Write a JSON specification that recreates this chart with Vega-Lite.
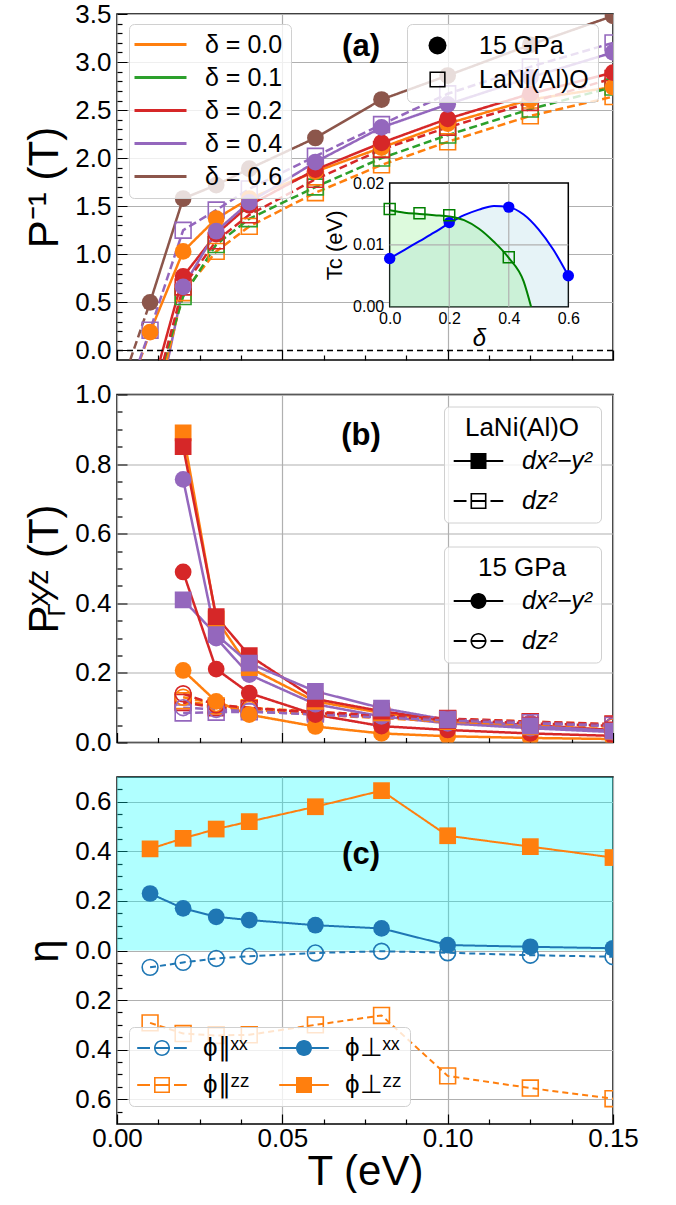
{
"$schema":"https://vega.github.io/schema/vega-lite/v6.json",
"background":"white",
"padding":{"left":23,"top":0,"right":5,"bottom":0},
"autosize":{"type":"pad"},
"bounds":"flush",
"spacing":34.5,
"config":{
 "font":"Liberation Sans",
 "view":{"stroke":"black","strokeWidth":1.5},
 "axis":{"domain":false,"labelFont":"Liberation Sans","labelFontSize":26,"labelColor":"black","labelOverlap":false,"labelFlush":false,"labelPadding":16,"tickColor":"black","tickWidth":1.2,"tickSize":-10,"gridColor":"#b0b0b0","gridWidth":1.2,"titleFont":"Liberation Sans","titleFontSize":42,"titleFontWeight":"normal","titleColor":"black"},
 "legend":{"labelFont":"Liberation Sans","labelColor":"black","titleFont":"Liberation Sans","titleColor":"black","titleFontWeight":"normal","strokeColor":"#d0d0d0","fillColor":"rgba(255,255,255,0.8)","cornerRadius":5},
 "text":{"font":"Liberation Sans","color":"black"}
},
"resolve":{"scale":{"color":"independent","shape":"independent","strokeDash":"independent"}},
"datasets":{
 "pinv":[
  {"T":0.01,"P":0.19,"delta":"0.0","sample":"15 GPa","series":"G0","curve":"15 GPa","kind":"data"},
  {"T":0.02,"P":1.03,"delta":"0.0","sample":"15 GPa","series":"G0","curve":"15 GPa","kind":"data"},
  {"T":0.03,"P":1.37,"delta":"0.0","sample":"15 GPa","series":"G0","curve":"15 GPa","kind":"data"},
  {"T":0.04,"P":1.58,"delta":"0.0","sample":"15 GPa","series":"G0","curve":"15 GPa","kind":"data"},
  {"T":0.06,"P":1.86,"delta":"0.0","sample":"15 GPa","series":"G0","curve":"15 GPa","kind":"data"},
  {"T":0.08,"P":2.11,"delta":"0.0","sample":"15 GPa","series":"G0","curve":"15 GPa","kind":"data"},
  {"T":0.1,"P":2.36,"delta":"0.0","sample":"15 GPa","series":"G0","curve":"15 GPa","kind":"data"},
  {"T":0.125,"P":2.61,"delta":"0.0","sample":"15 GPa","series":"G0","curve":"15 GPa","kind":"data"},
  {"T":0.15,"P":2.74,"delta":"0.0","sample":"15 GPa","series":"G0","curve":"15 GPa","kind":"data"},
  {"T":0.00695,"P":-0.1,"delta":"0.0","sample":"15 GPa","series":"G0f","curve":"fit","kind":"fit"},
  {"T":0.01,"P":0.19,"delta":"0.0","sample":"15 GPa","series":"G0f","curve":"fit","kind":"fit"},
  {"T":0.013,"P":-0.1,"delta":"0.2","sample":"15 GPa","series":"G2","curve":"15 GPa","kind":"fit"},
  {"T":0.02,"P":0.77,"delta":"0.2","sample":"15 GPa","series":"G2","curve":"15 GPa","kind":"data"},
  {"T":0.03,"P":1.21,"delta":"0.2","sample":"15 GPa","series":"G2","curve":"15 GPa","kind":"data"},
  {"T":0.04,"P":1.51,"delta":"0.2","sample":"15 GPa","series":"G2","curve":"15 GPa","kind":"data"},
  {"T":0.06,"P":1.88,"delta":"0.2","sample":"15 GPa","series":"G2","curve":"15 GPa","kind":"data"},
  {"T":0.08,"P":2.16,"delta":"0.2","sample":"15 GPa","series":"G2","curve":"15 GPa","kind":"data"},
  {"T":0.1,"P":2.41,"delta":"0.2","sample":"15 GPa","series":"G2","curve":"15 GPa","kind":"data"},
  {"T":0.125,"P":2.67,"delta":"0.2","sample":"15 GPa","series":"G2","curve":"15 GPa","kind":"data"},
  {"T":0.15,"P":2.89,"delta":"0.2","sample":"15 GPa","series":"G2","curve":"15 GPa","kind":"data"},
  {"T":0.0154,"P":-0.1,"delta":"0.4","sample":"15 GPa","series":"G4","curve":"15 GPa","kind":"fit"},
  {"T":0.02,"P":0.66,"delta":"0.4","sample":"15 GPa","series":"G4","curve":"15 GPa","kind":"data"},
  {"T":0.03,"P":1.24,"delta":"0.4","sample":"15 GPa","series":"G4","curve":"15 GPa","kind":"data"},
  {"T":0.04,"P":1.54,"delta":"0.4","sample":"15 GPa","series":"G4","curve":"15 GPa","kind":"data"},
  {"T":0.06,"P":1.96,"delta":"0.4","sample":"15 GPa","series":"G4","curve":"15 GPa","kind":"data"},
  {"T":0.08,"P":2.32,"delta":"0.4","sample":"15 GPa","series":"G4","curve":"15 GPa","kind":"data"},
  {"T":0.1,"P":2.56,"delta":"0.4","sample":"15 GPa","series":"G4","curve":"15 GPa","kind":"data"},
  {"T":0.125,"P":2.84,"delta":"0.4","sample":"15 GPa","series":"G4","curve":"15 GPa","kind":"data"},
  {"T":0.15,"P":3.1,"delta":"0.4","sample":"15 GPa","series":"G4","curve":"15 GPa","kind":"data"},
  {"T":0.01,"P":0.5,"delta":"0.6","sample":"15 GPa","series":"G6","curve":"15 GPa","kind":"data"},
  {"T":0.02,"P":1.58,"delta":"0.6","sample":"15 GPa","series":"G6","curve":"15 GPa","kind":"data"},
  {"T":0.03,"P":1.72,"delta":"0.6","sample":"15 GPa","series":"G6","curve":"15 GPa","kind":"data"},
  {"T":0.04,"P":1.89,"delta":"0.6","sample":"15 GPa","series":"G6","curve":"15 GPa","kind":"data"},
  {"T":0.06,"P":2.21,"delta":"0.6","sample":"15 GPa","series":"G6","curve":"15 GPa","kind":"data"},
  {"T":0.08,"P":2.61,"delta":"0.6","sample":"15 GPa","series":"G6","curve":"15 GPa","kind":"data"},
  {"T":0.1,"P":2.86,"delta":"0.6","sample":"15 GPa","series":"G6","curve":"15 GPa","kind":"data"},
  {"T":0.125,"P":3.18,"delta":"0.6","sample":"15 GPa","series":"G6","curve":"15 GPa","kind":"data"},
  {"T":0.15,"P":3.48,"delta":"0.6","sample":"15 GPa","series":"G6","curve":"15 GPa","kind":"data"},
  {"T":0.004,"P":-0.1,"delta":"0.6","sample":"15 GPa","series":"G6f","curve":"fit","kind":"fit"},
  {"T":0.01,"P":0.5,"delta":"0.6","sample":"15 GPa","series":"G6f","curve":"fit","kind":"fit"},
  {"T":0.015,"P":-0.1,"delta":"0.0","sample":"LaNi(Al)O","series":"L0","curve":"LaNi(Al)O","kind":"fit"},
  {"T":0.02,"P":0.6,"delta":"0.0","sample":"LaNi(Al)O","series":"L0","curve":"LaNi(Al)O","kind":"data"},
  {"T":0.03,"P":1.03,"delta":"0.0","sample":"LaNi(Al)O","series":"L0","curve":"LaNi(Al)O","kind":"data"},
  {"T":0.04,"P":1.29,"delta":"0.0","sample":"LaNi(Al)O","series":"L0","curve":"LaNi(Al)O","kind":"data"},
  {"T":0.06,"P":1.64,"delta":"0.0","sample":"LaNi(Al)O","series":"L0","curve":"LaNi(Al)O","kind":"data"},
  {"T":0.08,"P":1.93,"delta":"0.0","sample":"LaNi(Al)O","series":"L0","curve":"LaNi(Al)O","kind":"data"},
  {"T":0.1,"P":2.17,"delta":"0.0","sample":"LaNi(Al)O","series":"L0","curve":"LaNi(Al)O","kind":"data"},
  {"T":0.125,"P":2.44,"delta":"0.0","sample":"LaNi(Al)O","series":"L0","curve":"LaNi(Al)O","kind":"data"},
  {"T":0.15,"P":2.64,"delta":"0.0","sample":"LaNi(Al)O","series":"L0","curve":"LaNi(Al)O","kind":"data"},
  {"T":0.0143,"P":-0.1,"delta":"0.1","sample":"LaNi(Al)O","series":"L1","curve":"LaNi(Al)O","kind":"fit"},
  {"T":0.02,"P":0.56,"delta":"0.1","sample":"LaNi(Al)O","series":"L1","curve":"LaNi(Al)O","kind":"data"},
  {"T":0.03,"P":1.1,"delta":"0.1","sample":"LaNi(Al)O","series":"L1","curve":"LaNi(Al)O","kind":"data"},
  {"T":0.04,"P":1.37,"delta":"0.1","sample":"LaNi(Al)O","series":"L1","curve":"LaNi(Al)O","kind":"data"},
  {"T":0.06,"P":1.7,"delta":"0.1","sample":"LaNi(Al)O","series":"L1","curve":"LaNi(Al)O","kind":"data"},
  {"T":0.08,"P":2.0,"delta":"0.1","sample":"LaNi(Al)O","series":"L1","curve":"LaNi(Al)O","kind":"data"},
  {"T":0.1,"P":2.24,"delta":"0.1","sample":"LaNi(Al)O","series":"L1","curve":"LaNi(Al)O","kind":"data"},
  {"T":0.125,"P":2.51,"delta":"0.1","sample":"LaNi(Al)O","series":"L1","curve":"LaNi(Al)O","kind":"data"},
  {"T":0.15,"P":2.74,"delta":"0.1","sample":"LaNi(Al)O","series":"L1","curve":"LaNi(Al)O","kind":"data"},
  {"T":0.0141,"P":-0.1,"delta":"0.2","sample":"LaNi(Al)O","series":"L2","curve":"LaNi(Al)O","kind":"fit"},
  {"T":0.02,"P":0.66,"delta":"0.2","sample":"LaNi(Al)O","series":"L2","curve":"LaNi(Al)O","kind":"data"},
  {"T":0.03,"P":1.14,"delta":"0.2","sample":"LaNi(Al)O","series":"L2","curve":"LaNi(Al)O","kind":"data"},
  {"T":0.04,"P":1.41,"delta":"0.2","sample":"LaNi(Al)O","series":"L2","curve":"LaNi(Al)O","kind":"data"},
  {"T":0.06,"P":1.78,"delta":"0.2","sample":"LaNi(Al)O","series":"L2","curve":"LaNi(Al)O","kind":"data"},
  {"T":0.08,"P":2.09,"delta":"0.2","sample":"LaNi(Al)O","series":"L2","curve":"LaNi(Al)O","kind":"data"},
  {"T":0.1,"P":2.32,"delta":"0.2","sample":"LaNi(Al)O","series":"L2","curve":"LaNi(Al)O","kind":"data"},
  {"T":0.125,"P":2.58,"delta":"0.2","sample":"LaNi(Al)O","series":"L2","curve":"LaNi(Al)O","kind":"data"},
  {"T":0.15,"P":2.83,"delta":"0.2","sample":"LaNi(Al)O","series":"L2","curve":"LaNi(Al)O","kind":"data"},
  {"T":0.0068,"P":-0.1,"delta":"0.4","sample":"LaNi(Al)O","series":"L4","curve":"LaNi(Al)O","kind":"fit"},
  {"T":0.01,"P":0.21,"delta":"0.4","sample":"LaNi(Al)O","series":"L4","curve":"LaNi(Al)O","kind":"data"},
  {"T":0.02,"P":1.25,"delta":"0.4","sample":"LaNi(Al)O","series":"L4","curve":"LaNi(Al)O","kind":"data"},
  {"T":0.03,"P":1.46,"delta":"0.4","sample":"LaNi(Al)O","series":"L4","curve":"LaNi(Al)O","kind":"data"},
  {"T":0.04,"P":1.68,"delta":"0.4","sample":"LaNi(Al)O","series":"L4","curve":"LaNi(Al)O","kind":"data"},
  {"T":0.06,"P":2.02,"delta":"0.4","sample":"LaNi(Al)O","series":"L4","curve":"LaNi(Al)O","kind":"data"},
  {"T":0.08,"P":2.35,"delta":"0.4","sample":"LaNi(Al)O","series":"L4","curve":"LaNi(Al)O","kind":"data"},
  {"T":0.1,"P":2.67,"delta":"0.4","sample":"LaNi(Al)O","series":"L4","curve":"LaNi(Al)O","kind":"data"},
  {"T":0.125,"P":2.95,"delta":"0.4","sample":"LaNi(Al)O","series":"L4","curve":"LaNi(Al)O","kind":"data"},
  {"T":0.15,"P":3.2,"delta":"0.4","sample":"LaNi(Al)O","series":"L4","curve":"LaNi(Al)O","kind":"data"}
 ],
 "tccurve":[
  {"delta":0,"Tc":0.0078,"sample":"15 GPa"},{"delta":0.05,"Tc":0.0092,"sample":"15 GPa"},{"delta":0.1,"Tc":0.0106,"sample":"15 GPa"},{"delta":0.15,"Tc":0.012,"sample":"15 GPa"},{"delta":0.2,"Tc":0.0135,"sample":"15 GPa"},{"delta":0.25,"Tc":0.0148,"sample":"15 GPa"},{"delta":0.3,"Tc":0.0157,"sample":"15 GPa"},{"delta":0.35,"Tc":0.0163,"sample":"15 GPa"},{"delta":0.4,"Tc":0.0161,"sample":"15 GPa"},{"delta":0.45,"Tc":0.0149,"sample":"15 GPa"},{"delta":0.5,"Tc":0.0125,"sample":"15 GPa"},{"delta":0.55,"Tc":0.0092,"sample":"15 GPa"},{"delta":0.6,"Tc":0.005,"sample":"15 GPa"},
  {"delta":0,"Tc":0.0156,"sample":"LaNi(Al)O"},{"delta":0.05,"Tc":0.0152,"sample":"LaNi(Al)O"},{"delta":0.1,"Tc":0.015,"sample":"LaNi(Al)O"},{"delta":0.15,"Tc":0.0148,"sample":"LaNi(Al)O"},{"delta":0.2,"Tc":0.0146,"sample":"LaNi(Al)O"},{"delta":0.25,"Tc":0.014,"sample":"LaNi(Al)O"},{"delta":0.3,"Tc":0.0126,"sample":"LaNi(Al)O"},{"delta":0.35,"Tc":0.0105,"sample":"LaNi(Al)O"},{"delta":0.4,"Tc":0.0079,"sample":"LaNi(Al)O"},{"delta":0.45,"Tc":0.0041,"sample":"LaNi(Al)O"},{"delta":0.475,"Tc":0.0,"sample":"LaNi(Al)O"}
 ],
 "tcpts":[
  {"delta":0,"Tc":0.0078,"sample":"15 GPa"},{"delta":0.2,"Tc":0.0136,"sample":"15 GPa"},{"delta":0.4,"Tc":0.0161,"sample":"15 GPa"},{"delta":0.6,"Tc":0.005,"sample":"15 GPa"},
  {"delta":0,"Tc":0.0158,"sample":"LaNi(Al)O"},{"delta":0.1,"Tc":0.0151,"sample":"LaNi(Al)O"},{"delta":0.2,"Tc":0.0148,"sample":"LaNi(Al)O"},{"delta":0.4,"Tc":0.008,"sample":"LaNi(Al)O"}
 ],
 "pgamma":[
  {"T":0.02,"P":0.89,"delta":"0.0","sample":"LaNi(Al)O","orbital":"dx2-y2"},{"T":0.03,"P":0.355,"delta":"0.0","sample":"LaNi(Al)O","orbital":"dx2-y2"},{"T":0.04,"P":0.215,"delta":"0.0","sample":"LaNi(Al)O","orbital":"dx2-y2"},{"T":0.06,"P":0.118,"delta":"0.0","sample":"LaNi(Al)O","orbital":"dx2-y2"},{"T":0.08,"P":0.085,"delta":"0.0","sample":"LaNi(Al)O","orbital":"dx2-y2"},{"T":0.1,"P":0.06,"delta":"0.0","sample":"LaNi(Al)O","orbital":"dx2-y2"},{"T":0.125,"P":0.045,"delta":"0.0","sample":"LaNi(Al)O","orbital":"dx2-y2"},{"T":0.15,"P":0.032,"delta":"0.0","sample":"LaNi(Al)O","orbital":"dx2-y2"},
  {"T":0.02,"P":0.85,"delta":"0.2","sample":"LaNi(Al)O","orbital":"dx2-y2"},{"T":0.03,"P":0.362,"delta":"0.2","sample":"LaNi(Al)O","orbital":"dx2-y2"},{"T":0.04,"P":0.25,"delta":"0.2","sample":"LaNi(Al)O","orbital":"dx2-y2"},{"T":0.06,"P":0.125,"delta":"0.2","sample":"LaNi(Al)O","orbital":"dx2-y2"},{"T":0.08,"P":0.09,"delta":"0.2","sample":"LaNi(Al)O","orbital":"dx2-y2"},{"T":0.1,"P":0.063,"delta":"0.2","sample":"LaNi(Al)O","orbital":"dx2-y2"},{"T":0.125,"P":0.05,"delta":"0.2","sample":"LaNi(Al)O","orbital":"dx2-y2"},{"T":0.15,"P":0.036,"delta":"0.2","sample":"LaNi(Al)O","orbital":"dx2-y2"},
  {"T":0.02,"P":0.41,"delta":"0.4","sample":"LaNi(Al)O","orbital":"dx2-y2"},{"T":0.03,"P":0.31,"delta":"0.4","sample":"LaNi(Al)O","orbital":"dx2-y2"},{"T":0.04,"P":0.228,"delta":"0.4","sample":"LaNi(Al)O","orbital":"dx2-y2"},{"T":0.06,"P":0.147,"delta":"0.4","sample":"LaNi(Al)O","orbital":"dx2-y2"},{"T":0.08,"P":0.099,"delta":"0.4","sample":"LaNi(Al)O","orbital":"dx2-y2"},{"T":0.1,"P":0.065,"delta":"0.4","sample":"LaNi(Al)O","orbital":"dx2-y2"},{"T":0.125,"P":0.048,"delta":"0.4","sample":"LaNi(Al)O","orbital":"dx2-y2"},{"T":0.15,"P":0.033,"delta":"0.4","sample":"LaNi(Al)O","orbital":"dx2-y2"},
  {"T":0.02,"P":0.12,"delta":"0.0","sample":"LaNi(Al)O","orbital":"dz2"},{"T":0.03,"P":0.105,"delta":"0.0","sample":"LaNi(Al)O","orbital":"dz2"},{"T":0.04,"P":0.1,"delta":"0.0","sample":"LaNi(Al)O","orbital":"dz2"},{"T":0.06,"P":0.088,"delta":"0.0","sample":"LaNi(Al)O","orbital":"dz2"},{"T":0.08,"P":0.078,"delta":"0.0","sample":"LaNi(Al)O","orbital":"dz2"},{"T":0.1,"P":0.068,"delta":"0.0","sample":"LaNi(Al)O","orbital":"dz2"},{"T":0.125,"P":0.06,"delta":"0.0","sample":"LaNi(Al)O","orbital":"dz2"},{"T":0.15,"P":0.052,"delta":"0.0","sample":"LaNi(Al)O","orbital":"dz2"},
  {"T":0.02,"P":0.115,"delta":"0.2","sample":"LaNi(Al)O","orbital":"dz2"},{"T":0.03,"P":0.1,"delta":"0.2","sample":"LaNi(Al)O","orbital":"dz2"},{"T":0.04,"P":0.097,"delta":"0.2","sample":"LaNi(Al)O","orbital":"dz2"},{"T":0.06,"P":0.088,"delta":"0.2","sample":"LaNi(Al)O","orbital":"dz2"},{"T":0.08,"P":0.078,"delta":"0.2","sample":"LaNi(Al)O","orbital":"dz2"},{"T":0.1,"P":0.069,"delta":"0.2","sample":"LaNi(Al)O","orbital":"dz2"},{"T":0.125,"P":0.06,"delta":"0.2","sample":"LaNi(Al)O","orbital":"dz2"},{"T":0.15,"P":0.053,"delta":"0.2","sample":"LaNi(Al)O","orbital":"dz2"},
  {"T":0.02,"P":0.085,"delta":"0.4","sample":"LaNi(Al)O","orbital":"dz2"},{"T":0.03,"P":0.087,"delta":"0.4","sample":"LaNi(Al)O","orbital":"dz2"},{"T":0.04,"P":0.088,"delta":"0.4","sample":"LaNi(Al)O","orbital":"dz2"},{"T":0.06,"P":0.082,"delta":"0.4","sample":"LaNi(Al)O","orbital":"dz2"},{"T":0.08,"P":0.074,"delta":"0.4","sample":"LaNi(Al)O","orbital":"dz2"},{"T":0.1,"P":0.066,"delta":"0.4","sample":"LaNi(Al)O","orbital":"dz2"},{"T":0.125,"P":0.057,"delta":"0.4","sample":"LaNi(Al)O","orbital":"dz2"},{"T":0.15,"P":0.049,"delta":"0.4","sample":"LaNi(Al)O","orbital":"dz2"},
  {"T":0.02,"P":0.207,"delta":"0.0","sample":"15 GPa","orbital":"dx2-y2"},{"T":0.03,"P":0.118,"delta":"0.0","sample":"15 GPa","orbital":"dx2-y2"},{"T":0.04,"P":0.08,"delta":"0.0","sample":"15 GPa","orbital":"dx2-y2"},{"T":0.06,"P":0.046,"delta":"0.0","sample":"15 GPa","orbital":"dx2-y2"},{"T":0.08,"P":0.026,"delta":"0.0","sample":"15 GPa","orbital":"dx2-y2"},{"T":0.1,"P":0.018,"delta":"0.0","sample":"15 GPa","orbital":"dx2-y2"},{"T":0.125,"P":0.013,"delta":"0.0","sample":"15 GPa","orbital":"dx2-y2"},{"T":0.15,"P":0.01,"delta":"0.0","sample":"15 GPa","orbital":"dx2-y2"},
  {"T":0.02,"P":0.49,"delta":"0.2","sample":"15 GPa","orbital":"dx2-y2"},{"T":0.03,"P":0.211,"delta":"0.2","sample":"15 GPa","orbital":"dx2-y2"},{"T":0.04,"P":0.142,"delta":"0.2","sample":"15 GPa","orbital":"dx2-y2"},{"T":0.06,"P":0.08,"delta":"0.2","sample":"15 GPa","orbital":"dx2-y2"},{"T":0.08,"P":0.047,"delta":"0.2","sample":"15 GPa","orbital":"dx2-y2"},{"T":0.1,"P":0.036,"delta":"0.2","sample":"15 GPa","orbital":"dx2-y2"},{"T":0.125,"P":0.026,"delta":"0.2","sample":"15 GPa","orbital":"dx2-y2"},{"T":0.15,"P":0.019,"delta":"0.2","sample":"15 GPa","orbital":"dx2-y2"},
  {"T":0.02,"P":0.756,"delta":"0.4","sample":"15 GPa","orbital":"dx2-y2"},{"T":0.03,"P":0.3,"delta":"0.4","sample":"15 GPa","orbital":"dx2-y2"},{"T":0.04,"P":0.195,"delta":"0.4","sample":"15 GPa","orbital":"dx2-y2"},{"T":0.06,"P":0.11,"delta":"0.4","sample":"15 GPa","orbital":"dx2-y2"},{"T":0.08,"P":0.075,"delta":"0.4","sample":"15 GPa","orbital":"dx2-y2"},{"T":0.1,"P":0.055,"delta":"0.4","sample":"15 GPa","orbital":"dx2-y2"},{"T":0.125,"P":0.041,"delta":"0.4","sample":"15 GPa","orbital":"dx2-y2"},{"T":0.15,"P":0.03,"delta":"0.4","sample":"15 GPa","orbital":"dx2-y2"},
  {"T":0.02,"P":0.13,"delta":"0.0","sample":"15 GPa","orbital":"dz2"},{"T":0.03,"P":0.112,"delta":"0.0","sample":"15 GPa","orbital":"dz2"},{"T":0.04,"P":0.095,"delta":"0.0","sample":"15 GPa","orbital":"dz2"},{"T":0.06,"P":0.08,"delta":"0.0","sample":"15 GPa","orbital":"dz2"},{"T":0.08,"P":0.07,"delta":"0.0","sample":"15 GPa","orbital":"dz2"},{"T":0.1,"P":0.06,"delta":"0.0","sample":"15 GPa","orbital":"dz2"},{"T":0.125,"P":0.052,"delta":"0.0","sample":"15 GPa","orbital":"dz2"},{"T":0.15,"P":0.045,"delta":"0.0","sample":"15 GPa","orbital":"dz2"},
  {"T":0.02,"P":0.14,"delta":"0.2","sample":"15 GPa","orbital":"dz2"},{"T":0.03,"P":0.108,"delta":"0.2","sample":"15 GPa","orbital":"dz2"},{"T":0.04,"P":0.1,"delta":"0.2","sample":"15 GPa","orbital":"dz2"},{"T":0.06,"P":0.085,"delta":"0.2","sample":"15 GPa","orbital":"dz2"},{"T":0.08,"P":0.075,"delta":"0.2","sample":"15 GPa","orbital":"dz2"},{"T":0.1,"P":0.065,"delta":"0.2","sample":"15 GPa","orbital":"dz2"},{"T":0.125,"P":0.055,"delta":"0.2","sample":"15 GPa","orbital":"dz2"},{"T":0.15,"P":0.048,"delta":"0.2","sample":"15 GPa","orbital":"dz2"},
  {"T":0.02,"P":0.1,"delta":"0.4","sample":"15 GPa","orbital":"dz2"},{"T":0.03,"P":0.095,"delta":"0.4","sample":"15 GPa","orbital":"dz2"},{"T":0.04,"P":0.09,"delta":"0.4","sample":"15 GPa","orbital":"dz2"},{"T":0.06,"P":0.08,"delta":"0.4","sample":"15 GPa","orbital":"dz2"},{"T":0.08,"P":0.072,"delta":"0.4","sample":"15 GPa","orbital":"dz2"},{"T":0.1,"P":0.063,"delta":"0.4","sample":"15 GPa","orbital":"dz2"},{"T":0.125,"P":0.055,"delta":"0.4","sample":"15 GPa","orbital":"dz2"},{"T":0.15,"P":0.047,"delta":"0.4","sample":"15 GPa","orbital":"dz2"}
 ],
 "eta":[
  {"T":0.01,"eta":0.41,"comp":"perp_zz"},{"T":0.02,"eta":0.4525,"comp":"perp_zz"},{"T":0.03,"eta":0.49,"comp":"perp_zz"},{"T":0.04,"eta":0.52,"comp":"perp_zz"},{"T":0.06,"eta":0.58,"comp":"perp_zz"},{"T":0.08,"eta":0.645,"comp":"perp_zz"},{"T":0.1,"eta":0.463,"comp":"perp_zz"},{"T":0.125,"eta":0.419,"comp":"perp_zz"},{"T":0.15,"eta":0.375,"comp":"perp_zz"},
  {"T":0.01,"eta":0.23,"comp":"perp_xx"},{"T":0.02,"eta":0.17,"comp":"perp_xx"},{"T":0.03,"eta":0.136,"comp":"perp_xx"},{"T":0.04,"eta":0.123,"comp":"perp_xx"},{"T":0.06,"eta":0.102,"comp":"perp_xx"},{"T":0.08,"eta":0.089,"comp":"perp_xx"},{"T":0.1,"eta":0.022,"comp":"perp_xx"},{"T":0.125,"eta":0.015,"comp":"perp_xx"},{"T":0.15,"eta":0.009,"comp":"perp_xx"},
  {"T":0.01,"eta":-0.068,"comp":"par_xx"},{"T":0.02,"eta":-0.048,"comp":"par_xx"},{"T":0.03,"eta":-0.032,"comp":"par_xx"},{"T":0.04,"eta":-0.023,"comp":"par_xx"},{"T":0.06,"eta":-0.01,"comp":"par_xx"},{"T":0.08,"eta":-0.003,"comp":"par_xx"},{"T":0.1,"eta":-0.009,"comp":"par_xx"},{"T":0.125,"eta":-0.019,"comp":"par_xx"},{"T":0.15,"eta":-0.025,"comp":"par_xx"},
  {"T":0.01,"eta":-0.292,"comp":"par_zz"},{"T":0.02,"eta":-0.335,"comp":"par_zz"},{"T":0.03,"eta":-0.343,"comp":"par_zz"},{"T":0.04,"eta":-0.34,"comp":"par_zz"},{"T":0.06,"eta":-0.3,"comp":"par_zz"},{"T":0.08,"eta":-0.262,"comp":"par_zz"},{"T":0.1,"eta":-0.506,"comp":"par_zz"},{"T":0.125,"eta":-0.555,"comp":"par_zz"},{"T":0.15,"eta":-0.598,"comp":"par_zz"}
 ],
 "labels":[
  {"panel":"a","T":0.0738,"P":3.16,"text":"(a)"},
  {"panel":"b","T":0.0738,"P":0.881,"text":"(b)"},
  {"panel":"c","T":0.0738,"P":0.385,"text":"(c)"}
 ]
},
"vconcat":[
 {
  "width":496,"height":346,
  "resolve":{"scale":{"x":"independent","y":"independent"}},
  "layer":[
   {"layer":[
    {"data":{"name":"pinv"},"mark":{"type":"line","strokeWidth":2.5,"clip":true},
     "encoding":{
      "x":{"field":"T","type":"quantitative","scale":{"domain":[0,0.15],"nice":false,"zero":false},
        "axis":{"values":[0,0.0125,0.025,0.0375,0.05,0.0625,0.075,0.0875,0.1,0.1125,0.125,0.1375,0.15],"tickCount":100,"labels":false,"labelOverlap":false,"title":null,"grid":true,
          "gridOpacity":{"condition":{"test":"abs(datum.value/0.05-round(datum.value/0.05))<0.001","value":1},"value":0},
          "tickDash":{"condition":{"test":"abs(datum.value/0.05-round(datum.value/0.05))<0.001","value":[1,0]},"value":[5,30]}}},
      "y":{"field":"P","type":"quantitative","scale":{"domain":[-0.1,3.5],"nice":false,"zero":false},
        "axis":{"values":[0,0.1,0.2,0.3,0.4,0.5,0.6,0.7,0.8,0.9,1,1.1,1.2,1.3,1.4,1.5,1.6,1.7,1.8,1.9,2,2.1,2.2,2.3,2.4,2.5,2.6,2.7,2.8,2.9,3,3.1,3.2,3.3,3.4,3.5],"tickCount":100,
          "labelExpr":"abs(datum.value*2-round(datum.value*2))<0.001 ? format(datum.value,'.1f') : ''",
          "labelOverlap":false,"grid":true,
          "gridOpacity":{"condition":{"test":"abs(datum.value*2-round(datum.value*2))<0.001 && datum.value>0.01","value":1},"value":0},
          "tickDash":{"condition":{"test":"abs(datum.value*2-round(datum.value*2))<0.001","value":[1,0]},"value":[5,30]},
          "title":"P⁻¹ (T)","titlePadding":8}},
      "color":{"field":"delta","type":"nominal","scale":{"domain":["0.0","0.1","0.2","0.4","0.6"],"range":["#ff7f0e","#2ca02c","#d62728","#9467bd","#8c564b"]},
        "legend":{"orient":"none","legendX":12,"legendY":10,"title":null,"labelExpr":"'δ = ' + datum.label","labelFontSize":25,"symbolType":"M-3.25,0H3.25","symbolSize":256,"symbolStrokeWidth":3,"symbolOffset":11,"labelOffset":32,"rowPadding":7,"padding":8}},
      "strokeDash":{"field":"curve","type":"nominal","scale":{"domain":["15 GPa","LaNi(Al)O","fit"],"range":[[1,0],[8,4],[8,4]]},"legend":null},
      "detail":{"field":"series"}}},
    {"data":{"values":[{"P":0}]},"mark":{"type":"rule","color":"black","strokeWidth":1.5,"strokeDash":[6,4]},
     "encoding":{"y":{"field":"P","type":"quantitative","scale":{"domain":[-0.1,3.5],"nice":false,"zero":false}}}},
    {"data":{"name":"pinv"},"transform":[{"filter":"datum.kind == 'data' && datum.sample == 'LaNi(Al)O'"}],
     "mark":{"type":"point","shape":"square","filled":false,"size":250,"strokeWidth":1.6,"opacity":1,"clip":true},
     "encoding":{"x":{"field":"T","type":"quantitative","scale":{"domain":[0,0.15],"nice":false,"zero":false}},
      "y":{"field":"P","type":"quantitative","scale":{"domain":[-0.1,3.5],"nice":false,"zero":false}},
      "color":{"field":"delta","type":"nominal","scale":{"domain":["0.0","0.1","0.2","0.4","0.6"],"range":["#ff7f0e","#2ca02c","#d62728","#9467bd","#8c564b"]},"legend":null}}},
    {"data":{"name":"pinv"},"transform":[{"filter":"datum.kind == 'data' && datum.sample == '15 GPa'"}],
     "mark":{"type":"point","shape":"circle","filled":true,"size":280,"opacity":1,"clip":true},
     "encoding":{"x":{"field":"T","type":"quantitative","scale":{"domain":[0,0.15],"nice":false,"zero":false}},
      "y":{"field":"P","type":"quantitative","scale":{"domain":[-0.1,3.5],"nice":false,"zero":false}},
      "color":{"field":"delta","type":"nominal","scale":{"domain":["0.0","0.1","0.2","0.4","0.6"],"range":["#ff7f0e","#2ca02c","#d62728","#9467bd","#8c564b"]},"legend":null}}},
    {"data":{"name":"labels"},"transform":[{"filter":"datum.panel == 'a'"}],
     "mark":{"type":"text","fontSize":31,"fontWeight":"bold","align":"center","baseline":"middle"},
     "encoding":{"x":{"field":"T","type":"quantitative","scale":{"domain":[0,0.15],"nice":false,"zero":false}},
      "y":{"field":"P","type":"quantitative","scale":{"domain":[-0.1,3.5],"nice":false,"zero":false}},
      "text":{"field":"text"}}},
    {"data":{"values":[{"sample":"15 GPa"}]},"transform":[{"filter":"false"}],
     "mark":{"type":"point","filled":true,"color":"black","opacity":1},
     "encoding":{"shape":{"field":"sample","type":"nominal","scale":{"domain":["15 GPa","LaNi(Al)O"],"range":["circle","M-0.9,-0.9H0.9V0.9H-0.9Z M-0.73,-0.73V0.73H0.73V-0.73Z"]},
      "legend":{"orient":"none","legendX":290,"legendY":10,"title":null,"labelFontSize":25,"symbolSize":324,"symbolFillColor":"black","symbolStrokeColor":"black","symbolStrokeWidth":0,"symbolOffset":9,"labelOffset":29,"rowPadding":8,"padding":9}}}}
   ]},
   {"layer":[
    {"data":{"values":[{"delta":0,"delta2":0.6,"Tc":0,"Tc2":0.02}]},"mark":{"type":"rect","fill":"white","stroke":"black","strokeWidth":1.5},
     "encoding":{
      "x":{"field":"delta","type":"quantitative","scale":{"domain":[0,0.6],"range":[272.7,451.3],"nice":false,"zero":false},
        "axis":{"orient":"bottom","offset":-53.3,"values":[0,0.2,0.4,0.6],"tickCount":100,"format":".1f","labelFontSize":16,"labelOverlap":false,"ticks":false,"labelPadding":4,"title":"δ","titleFontSize":24,"titleFontStyle":"italic","titlePadding":0,"grid":false}},
      "x2":{"field":"delta2"},
      "y":{"field":"Tc","type":"quantitative","scale":{"domain":[0,0.02],"range":[292.7,169],"nice":false,"zero":false},
        "axis":{"orient":"left","offset":-272.7,"values":[0,0.01,0.02],"tickCount":100,"format":".2f","labelFontSize":16,"labelOverlap":false,"ticks":false,"labelPadding":6,"title":"Tc (eV)","titleFontSize":22,"titlePadding":6,"grid":false}},
      "y2":{"field":"Tc2"}}},
    {"data":{"name":"tccurve"},"transform":[{"filter":"datum.sample == '15 GPa'"}],"mark":{"type":"area","color":"lightblue","opacity":0.3,"interpolate":"monotone"},
     "encoding":{"x":{"field":"delta","type":"quantitative","scale":{"domain":[0,0.6],"range":[272.7,451.3],"nice":false,"zero":false}},
      "y":{"field":"Tc","type":"quantitative","scale":{"domain":[0,0.02],"range":[292.7,169],"nice":false,"zero":false}}}},
    {"data":{"name":"tccurve"},"transform":[{"filter":"datum.sample == 'LaNi(Al)O'"}],"mark":{"type":"area","color":"lightgreen","opacity":0.3,"interpolate":"monotone"},
     "encoding":{"x":{"field":"delta","type":"quantitative","scale":{"domain":[0,0.6],"range":[272.7,451.3],"nice":false,"zero":false}},
      "y":{"field":"Tc","type":"quantitative","scale":{"domain":[0,0.02],"range":[292.7,169],"nice":false,"zero":false}}}},
    {"data":{"values":[{"delta":0.2,"Tc":0,"Tc2":0.02},{"delta":0.4,"Tc":0,"Tc2":0.02}]},"mark":{"type":"rule","color":"#b0b0b0","strokeWidth":1.2},
     "encoding":{"x":{"field":"delta","type":"quantitative","scale":{"domain":[0,0.6],"range":[272.7,451.3],"nice":false,"zero":false}},
      "y":{"field":"Tc","type":"quantitative","scale":{"domain":[0,0.02],"range":[292.7,169],"nice":false,"zero":false}},
      "y2":{"field":"Tc2"}}},
    {"data":{"values":[{"delta":0,"delta2":0.6,"Tc":0.01}]},"mark":{"type":"rule","color":"#b0b0b0","strokeWidth":1.2},
     "encoding":{"x":{"field":"delta","type":"quantitative","scale":{"domain":[0,0.6],"range":[272.7,451.3],"nice":false,"zero":false}},
      "x2":{"field":"delta2"},
      "y":{"field":"Tc","type":"quantitative","scale":{"domain":[0,0.02],"range":[292.7,169],"nice":false,"zero":false}}}},
    {"data":{"name":"tccurve"},"transform":[{"filter":"datum.sample == '15 GPa'"}],"mark":{"type":"line","color":"blue","strokeWidth":2,"interpolate":"monotone"},
     "encoding":{"x":{"field":"delta","type":"quantitative","scale":{"domain":[0,0.6],"range":[272.7,451.3],"nice":false,"zero":false}},
      "y":{"field":"Tc","type":"quantitative","scale":{"domain":[0,0.02],"range":[292.7,169],"nice":false,"zero":false}}}},
    {"data":{"name":"tccurve"},"transform":[{"filter":"datum.sample == 'LaNi(Al)O'"}],"mark":{"type":"line","color":"green","strokeWidth":2,"interpolate":"monotone"},
     "encoding":{"x":{"field":"delta","type":"quantitative","scale":{"domain":[0,0.6],"range":[272.7,451.3],"nice":false,"zero":false}},
      "y":{"field":"Tc","type":"quantitative","scale":{"domain":[0,0.02],"range":[292.7,169],"nice":false,"zero":false}}}},
    {"data":{"name":"tcpts"},"transform":[{"filter":"datum.sample == '15 GPa'"}],"mark":{"type":"point","shape":"circle","filled":true,"color":"blue","size":130,"opacity":1},
     "encoding":{"x":{"field":"delta","type":"quantitative","scale":{"domain":[0,0.6],"range":[272.7,451.3],"nice":false,"zero":false}},
      "y":{"field":"Tc","type":"quantitative","scale":{"domain":[0,0.02],"range":[292.7,169],"nice":false,"zero":false}}}},
    {"data":{"name":"tcpts"},"transform":[{"filter":"datum.sample == 'LaNi(Al)O'"}],"mark":{"type":"point","shape":"square","filled":false,"color":"green","size":120,"strokeWidth":1.5,"opacity":1},
     "encoding":{"x":{"field":"delta","type":"quantitative","scale":{"domain":[0,0.6],"range":[272.7,451.3],"nice":false,"zero":false}},
      "y":{"field":"Tc","type":"quantitative","scale":{"domain":[0,0.02],"range":[292.7,169],"nice":false,"zero":false}}}}
   ]}
  ]
 },
 {
  "width":496,"height":348,
  "resolve":{"scale":{"shape":"independent"}},
  "layer":[
   {"data":{"name":"pgamma"},"mark":{"type":"line","strokeWidth":2.5,"clip":true},
    "encoding":{
     "x":{"field":"T","type":"quantitative","scale":{"domain":[0,0.15],"nice":false,"zero":false},
       "axis":{"values":[0,0.0125,0.025,0.0375,0.05,0.0625,0.075,0.0875,0.1,0.1125,0.125,0.1375,0.15],"tickCount":100,"labels":false,"labelOverlap":false,"title":null,"grid":true,
         "gridOpacity":{"condition":{"test":"abs(datum.value/0.05-round(datum.value/0.05))<0.001","value":1},"value":0},
         "tickDash":{"condition":{"test":"abs(datum.value/0.05-round(datum.value/0.05))<0.001","value":[1,0]},"value":[5,30]}}},
     "y":{"field":"P","type":"quantitative","scale":{"domain":[0,1],"nice":false,"zero":false},
       "axis":{"values":[0,0.05,0.1,0.15,0.2,0.25,0.3,0.35,0.4,0.45,0.5,0.55,0.6,0.65,0.7,0.75,0.8,0.85,0.9,0.95,1],"tickCount":100,
         "labelExpr":"abs(datum.value*5-round(datum.value*5))<0.001 ? format(datum.value,'.1f') : ''",
         "labelOverlap":false,"grid":true,
         "gridOpacity":{"condition":{"test":"abs(datum.value*5-round(datum.value*5))<0.001","value":1},"value":0},
         "tickDash":{"condition":{"test":"abs(datum.value*5-round(datum.value*5))<0.001","value":[1,0]},"value":[5,30]},
         "title":"Pˣ⁄ᶻ (T)","titlePadding":8}},
     "color":{"field":"delta","type":"nominal","scale":{"domain":["0.0","0.2","0.4"],"range":["#ff7f0e","#d62728","#9467bd"]},"legend":null},
     "strokeDash":{"field":"orbital","type":"nominal","scale":{"domain":["dx2-y2","dz2"],"range":[[1,0],[8,4]]},"legend":null},
     "detail":{"field":"sample"}}},
   {"data":{"name":"pgamma"},"transform":[{"filter":"datum.sample == 'LaNi(Al)O' && datum.orbital == 'dz2'"}],
    "mark":{"type":"point","shape":"square","filled":false,"size":250,"strokeWidth":1.6,"opacity":1,"clip":true},
    "encoding":{"x":{"field":"T","type":"quantitative","scale":{"domain":[0,0.15],"nice":false,"zero":false}},
     "y":{"field":"P","type":"quantitative","scale":{"domain":[0,1],"nice":false,"zero":false}},
     "color":{"field":"delta","type":"nominal","scale":{"domain":["0.0","0.2","0.4"],"range":["#ff7f0e","#d62728","#9467bd"]},"legend":null}}},
   {"data":{"name":"pgamma"},"transform":[{"filter":"datum.sample == '15 GPa' && datum.orbital == 'dz2'"}],
    "mark":{"type":"point","shape":"circle","filled":false,"size":250,"strokeWidth":1.6,"opacity":1,"clip":true},
    "encoding":{"x":{"field":"T","type":"quantitative","scale":{"domain":[0,0.15],"nice":false,"zero":false}},
     "y":{"field":"P","type":"quantitative","scale":{"domain":[0,1],"nice":false,"zero":false}},
     "color":{"field":"delta","type":"nominal","scale":{"domain":["0.0","0.2","0.4"],"range":["#ff7f0e","#d62728","#9467bd"]},"legend":null}}},
   {"data":{"name":"pgamma"},"transform":[{"filter":"datum.sample == '15 GPa' && datum.orbital == 'dx2-y2'"}],
    "mark":{"type":"point","shape":"circle","filled":true,"size":280,"opacity":1,"clip":true},
    "encoding":{"x":{"field":"T","type":"quantitative","scale":{"domain":[0,0.15],"nice":false,"zero":false}},
     "y":{"field":"P","type":"quantitative","scale":{"domain":[0,1],"nice":false,"zero":false}},
     "color":{"field":"delta","type":"nominal","scale":{"domain":["0.0","0.2","0.4"],"range":["#ff7f0e","#d62728","#9467bd"]},"legend":null}}},
   {"data":{"name":"pgamma"},"transform":[{"filter":"datum.sample == 'LaNi(Al)O' && datum.orbital == 'dx2-y2'"}],
    "mark":{"type":"point","shape":"square","filled":true,"size":280,"opacity":1,"clip":true},
    "encoding":{"x":{"field":"T","type":"quantitative","scale":{"domain":[0,0.15],"nice":false,"zero":false}},
     "y":{"field":"P","type":"quantitative","scale":{"domain":[0,1],"nice":false,"zero":false}},
     "color":{"field":"delta","type":"nominal","scale":{"domain":["0.0","0.2","0.4"],"range":["#ff7f0e","#d62728","#9467bd"]},"legend":null}}},
   {"data":{"name":"labels"},"transform":[{"filter":"datum.panel == 'b'"}],
    "mark":{"type":"text","fontSize":31,"fontWeight":"bold","align":"center","baseline":"middle"},
    "encoding":{"x":{"field":"T","type":"quantitative","scale":{"domain":[0,0.15],"nice":false,"zero":false}},
     "y":{"field":"P","type":"quantitative","scale":{"domain":[0,1],"nice":false,"zero":false}},
     "text":{"field":"text"}}},
   {"data":{"values":[{"T":-0.0178,"P":0.381,"text":"Γ"}]},
    "mark":{"type":"text","fontSize":24,"angle":270,"align":"center","baseline":"middle"},
    "encoding":{"x":{"field":"T","type":"quantitative","scale":{"domain":[0,0.15],"nice":false,"zero":false}},
     "y":{"field":"P","type":"quantitative","scale":{"domain":[0,1],"nice":false,"zero":false}},
     "text":{"field":"text"}}},
   {"data":{"values":[{"k":"x"}]},"transform":[{"filter":"false"}],
    "mark":{"type":"point","filled":true,"color":"black","opacity":1},
    "encoding":{"shape":{"field":"k","type":"nominal","scale":{"domain":["dx²−y²","dz²"],"range":["M-3.1,-0.125H3.1V0.125H-3.1Z M-1,-1H1V1H-1Z","M-3.1,-0.125H-1.5V0.125H-3.1Z M1.5,-0.125H3.1V0.125H1.5Z M-1,-0.125H1V0.125H-1Z M-1,-1H1V1H-1Z M-0.8,-0.8V0.8H0.8V-0.8Z"]},
     "legend":{"orient":"none","legendX":327,"legendY":12,"title":"LaNi(Al)O","titleFontSize":26,"titleAnchor":"middle","titlePadding":8,"labelFontSize":25,"labelFontStyle":"italic","symbolSize":256,"symbolFillColor":"black","symbolStrokeWidth":0,"symbolOffset":14,"labelOffset":31,"rowPadding":14,"padding":8}}}},
   {"data":{"values":[{"k":"x"}]},"transform":[{"filter":"false"}],
    "mark":{"type":"point","filled":true,"color":"black","opacity":1},
    "encoding":{"shape":{"field":"k","type":"nominal","scale":{"domain":["dx²−y²","dz²"],"range":["M-3.1,-0.125H3.1V0.125H-3.1Z M-1,0A1,1,0,1,1,1,0A1,1,0,1,1,-1,0Z","M-3.1,-0.125H-1.5V0.125H-3.1Z M1.5,-0.125H3.1V0.125H1.5Z M-1,-0.125H1V0.125H-1Z M-1,0A1,1,0,1,1,1,0A1,1,0,1,1,-1,0Z M-0.8,0A0.8,0.8,0,1,0,0.8,0A0.8,0.8,0,1,0,-0.8,0Z"]},
     "legend":{"orient":"none","legendX":327,"legendY":152,"title":"15 GPa","titleFontSize":26,"titleAnchor":"middle","titlePadding":8,"labelFontSize":25,"labelFontStyle":"italic","symbolSize":256,"symbolFillColor":"black","symbolStrokeWidth":0,"symbolOffset":14,"labelOffset":31,"rowPadding":14,"padding":8}}}}
  ]
 },
 {
  "width":496,"height":347,
  "resolve":{"scale":{"color":"independent","shape":"independent","strokeDash":"independent"}},
  "layer":[
   {"data":{"values":[{"T":0,"T2":0.15,"eta":0,"eta2":0.7}]},"mark":{"type":"rect","color":"#00ffff","opacity":0.31},
    "encoding":{
     "x":{"field":"T","type":"quantitative","scale":{"domain":[0,0.15],"nice":false,"zero":false},
       "axis":{"values":[0,0.0125,0.025,0.0375,0.05,0.0625,0.075,0.0875,0.1,0.1125,0.125,0.1375,0.15],"tickCount":100,
         "labelExpr":"abs(datum.value/0.05-round(datum.value/0.05))<0.001 ? format(datum.value,'.2f') : ''",
         "labelOverlap":false,"labelPadding":11,
         "title":"T (eV)","titlePadding":0,"grid":true,
         "gridOpacity":{"condition":{"test":"abs(datum.value/0.05-round(datum.value/0.05))<0.001","value":1},"value":0},
         "tickDash":{"condition":{"test":"abs(datum.value/0.05-round(datum.value/0.05))<0.001","value":[1,0]},"value":[5,30]}}},
     "x2":{"field":"T2"},
     "y":{"field":"eta","type":"quantitative","scale":{"domain":[-0.7,0.7],"nice":false,"zero":false},
       "axis":{"values":[-0.65,-0.6,-0.55,-0.5,-0.45,-0.4,-0.35,-0.3,-0.25,-0.2,-0.15,-0.1,-0.05,0,0.05,0.1,0.15,0.2,0.25,0.3,0.35,0.4,0.45,0.5,0.55,0.6,0.65],"tickCount":100,
         "labelExpr":"abs(datum.value*5-round(datum.value*5))<0.001 ? format(abs(datum.value),'.1f') : ''",
         "labelOverlap":false,"grid":true,
         "gridOpacity":{"condition":{"test":"abs(datum.value*5-round(datum.value*5))<0.001","value":1},"value":0},
         "tickDash":{"condition":{"test":"abs(datum.value*5-round(datum.value*5))<0.001","value":[1,0]},"value":[5,30]},
         "title":"η","titlePadding":8}},
     "y2":{"field":"eta2"}}},
   {"data":{"name":"eta"},"mark":{"type":"line","strokeWidth":2,"clip":true},
    "encoding":{"x":{"field":"T","type":"quantitative","scale":{"domain":[0,0.15],"nice":false,"zero":false}},
     "y":{"field":"eta","type":"quantitative","scale":{"domain":[-0.7,0.7],"nice":false,"zero":false}},
     "color":{"field":"comp","type":"nominal","scale":{"domain":["par_xx","perp_xx","par_zz","perp_zz"],"range":["#1f77b4","#1f77b4","#ff7f0e","#ff7f0e"]},"legend":null},
     "strokeDash":{"field":"comp","type":"nominal","scale":{"domain":["par_xx","perp_xx","par_zz","perp_zz"],"range":[[6,4],[1,0],[6,4],[1,0]]},"legend":null}}},
   {"data":{"name":"eta"},"transform":[{"filter":"datum.comp == 'par_xx'"}],"mark":{"type":"point","shape":"circle","filled":false,"color":"#1f77b4","size":250,"strokeWidth":1.6,"opacity":1,"clip":true},
    "encoding":{"x":{"field":"T","type":"quantitative","scale":{"domain":[0,0.15],"nice":false,"zero":false}},
     "y":{"field":"eta","type":"quantitative","scale":{"domain":[-0.7,0.7],"nice":false,"zero":false}}}},
   {"data":{"name":"eta"},"transform":[{"filter":"datum.comp == 'par_zz'"}],"mark":{"type":"point","shape":"square","filled":false,"color":"#ff7f0e","size":250,"strokeWidth":1.6,"opacity":1,"clip":true},
    "encoding":{"x":{"field":"T","type":"quantitative","scale":{"domain":[0,0.15],"nice":false,"zero":false}},
     "y":{"field":"eta","type":"quantitative","scale":{"domain":[-0.7,0.7],"nice":false,"zero":false}}}},
   {"data":{"name":"eta"},"transform":[{"filter":"datum.comp == 'perp_xx'"}],"mark":{"type":"point","shape":"circle","filled":true,"color":"#1f77b4","size":280,"opacity":1,"clip":true},
    "encoding":{"x":{"field":"T","type":"quantitative","scale":{"domain":[0,0.15],"nice":false,"zero":false}},
     "y":{"field":"eta","type":"quantitative","scale":{"domain":[-0.7,0.7],"nice":false,"zero":false}}}},
   {"data":{"name":"eta"},"transform":[{"filter":"datum.comp == 'perp_zz'"}],"mark":{"type":"point","shape":"square","filled":true,"color":"#ff7f0e","size":280,"opacity":1,"clip":true},
    "encoding":{"x":{"field":"T","type":"quantitative","scale":{"domain":[0,0.15],"nice":false,"zero":false}},
     "y":{"field":"eta","type":"quantitative","scale":{"domain":[-0.7,0.7],"nice":false,"zero":false}}}},
   {"data":{"name":"labels"},"transform":[{"filter":"datum.panel == 'c'"}],
    "mark":{"type":"text","fontSize":31,"fontWeight":"bold","align":"center","baseline":"middle"},
    "encoding":{"x":{"field":"T","type":"quantitative","scale":{"domain":[0,0.15],"nice":false,"zero":false}},
     "y":{"field":"P","type":"quantitative","scale":{"domain":[-0.7,0.7],"nice":false,"zero":false}},
     "text":{"field":"text"}}},
   {"data":{"values":[{"comp":"x"}]},"transform":[{"filter":"false"}],
    "mark":{"type":"point","filled":true,"opacity":1},
    "encoding":{
     "shape":{"field":"comp","type":"nominal","scale":{"domain":["ϕ∥ˣˣ","ϕ∥ᶻᶻ","ϕ⊥ˣˣ","ϕ⊥ᶻᶻ"],"range":["M-3.1,-0.125H-1.5V0.125H-3.1Z M1.5,-0.125H3.1V0.125H1.5Z M-1,-0.125H1V0.125H-1Z M-1,0A1,1,0,1,1,1,0A1,1,0,1,1,-1,0Z M-0.8,0A0.8,0.8,0,1,0,0.8,0A0.8,0.8,0,1,0,-0.8,0Z","M-3.1,-0.125H-1.5V0.125H-3.1Z M1.5,-0.125H3.1V0.125H1.5Z M-1,-0.125H1V0.125H-1Z M-1,-1H1V1H-1Z M-0.8,-0.8V0.8H0.8V-0.8Z","M-3.1,-0.125H3.1V0.125H-3.1Z M-1,0A1,1,0,1,1,1,0A1,1,0,1,1,-1,0Z","M-3.1,-0.125H3.1V0.125H-3.1Z M-1,-1H1V1H-1Z"]},
      "legend":{"orient":"none","legendX":12,"legendY":250,"title":null,"columns":2,"columnPadding":29,"labelFontSize":26,"symbolSize":256,"symbolStrokeWidth":0,"symbolOffset":12,"labelOffset":28,"rowPadding":11,"padding":8}},
     "color":{"field":"comp","type":"nominal","scale":{"domain":["ϕ∥ˣˣ","ϕ∥ᶻᶻ","ϕ⊥ˣˣ","ϕ⊥ᶻᶻ"],"range":["#1f77b4","#ff7f0e","#1f77b4","#ff7f0e"]},
      "legend":{"orient":"none","legendX":12,"legendY":250,"title":null,"columns":2,"columnPadding":29,"labelFontSize":26,"symbolSize":256,"symbolStrokeWidth":0,"symbolOffset":12,"labelOffset":28,"rowPadding":11,"padding":8}}}}
  ]
 }
]
}
